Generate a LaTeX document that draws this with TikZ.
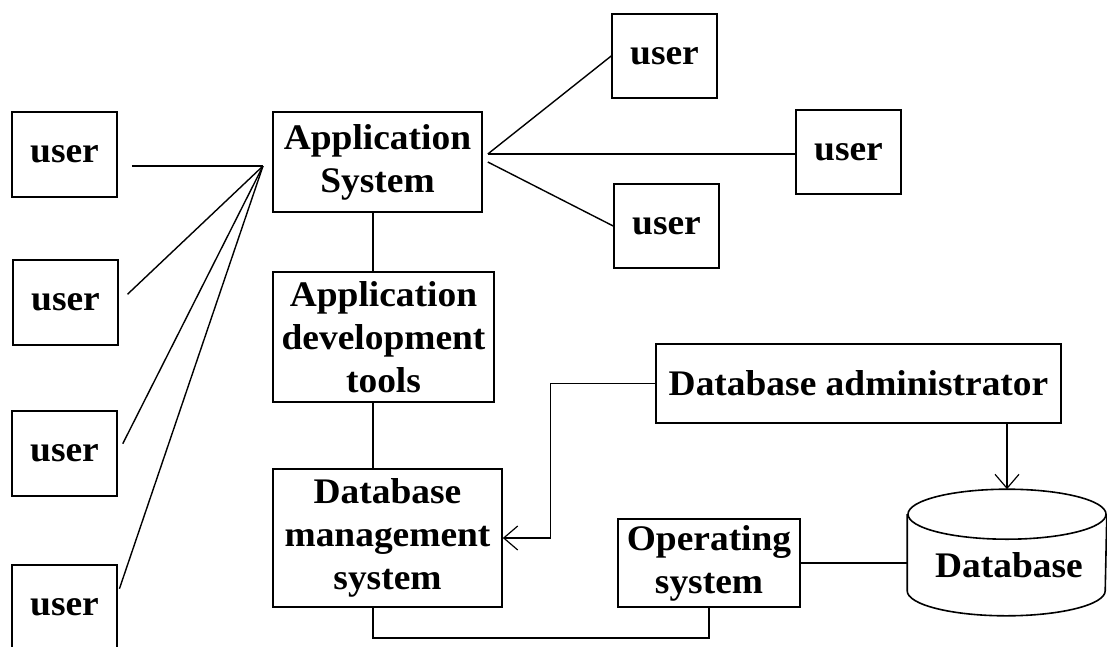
\documentclass[tikz,border=0pt]{standalone}
\usepackage{fontspec}
\setmainfont{Liberation Serif}[FakeStretch=1.04]
\usetikzlibrary{arrows.meta,calc}
\begin{document}
\begin{tikzpicture}[x=1pt,y=-1pt,
  box/.style={draw, line width=1.6pt, inner sep=0pt, align=center,
    font=\fontsize{36}{43}\selectfont\bfseries},
  userbox/.style={box, minimum width=105pt, minimum height=85pt},
  conn/.style={line width=1.4pt},
  arr/.style={conn, -{Straight Barb[length=14pt,width=24pt,line width=1.2pt]}}
]
\useasboundingbox (0,0) rectangle (1107,646);
% left users
\node[userbox] (u1) at (64.5,154.5) {user};
\node[userbox] (u2) at (65.5,302.5) {user};
\node[userbox] (u3) at (64.5,453.5) {user};
\node[userbox] (u4) at (64.5,607.5) {user};
% right users
\node[userbox, minimum height=84pt] (ur1) at (664.5,56) {user};
\node[userbox, minimum height=84pt] (ur2) at (848.5,152) {user};
\node[userbox, minimum height=84pt] (ur3) at (666.5,226) {user};
% main column
\node[box, minimum width=209pt, minimum height=100pt] (app) at (377.5,162) {Application\\System};
\node[box, minimum width=221pt, minimum height=130pt] (dev) at (383.5,337) {Application\\development\\tools};
\node[box, minimum width=229pt, minimum height=138pt] (dbms) at (387.5,538) {Database\\management\\system};
\node[box, minimum width=182pt, minimum height=88pt] (os) at (709,563) {Operating\\system};
\node[box, minimum width=405pt, minimum height=79pt] (dba) at (858.5,383.5) {Database administrator};
% database cylinder
\node[box, draw=none, minimum width=198pt, minimum height=125pt] (db) at (1007,552.5) {};
\node[box, draw=none] (dblabel) at (1009,565) {Database};
\draw[line width=1.6pt] ([yshift=-25pt]db.north) ellipse (99pt and 25pt);
\draw[line width=1.6pt] ([yshift=-25pt]db.north west) -- ([yshift=25pt]db.south west)
  arc (180:360:99pt and 25pt) -- ([yshift=-25pt]db.north east);
% hubs
\coordinate (hubL) at (263,166);
\coordinate (hubR) at ([shift={(5pt,8pt)}]app.east);
\coordinate (hubR2) at ([xshift=5pt]app.east);
\coordinate (spine) at (373,0);
% left connectors
\draw[conn, shorten <=14pt] (u1.east |- hubL) -- (hubL);
\draw[conn, shorten <=12pt] (u2.east) -- (hubL);
\draw[conn, shorten <=11pt] (u3.east) -- (hubL);
\draw[conn, shorten <=5pt] ([yshift=14pt]u4.east) -- (hubL);
% right connectors
\draw[conn] (hubR) -- (ur1.west);
\draw[conn] (hubR) -- (hubR -| ur2.west);
\draw[conn] (hubR2) -- (ur3.west);
% column connectors
\draw[conn] (app.south -| spine) -- (dev.north -| spine);
\draw[conn] (dev.south -| spine) -- (dbms.north -| spine);
\draw[conn] (os.south) -- ++(0,30) -| (dbms.south -| spine);
\draw[conn] (os.east) -- (os.east -| db.west);
% arrows
\draw[arr] (dba.west) -- ++(-105,0) |- (dbms.east);
\draw[arr] (dba.south -| db.north) -- (db.north);
\end{tikzpicture}
\end{document}
